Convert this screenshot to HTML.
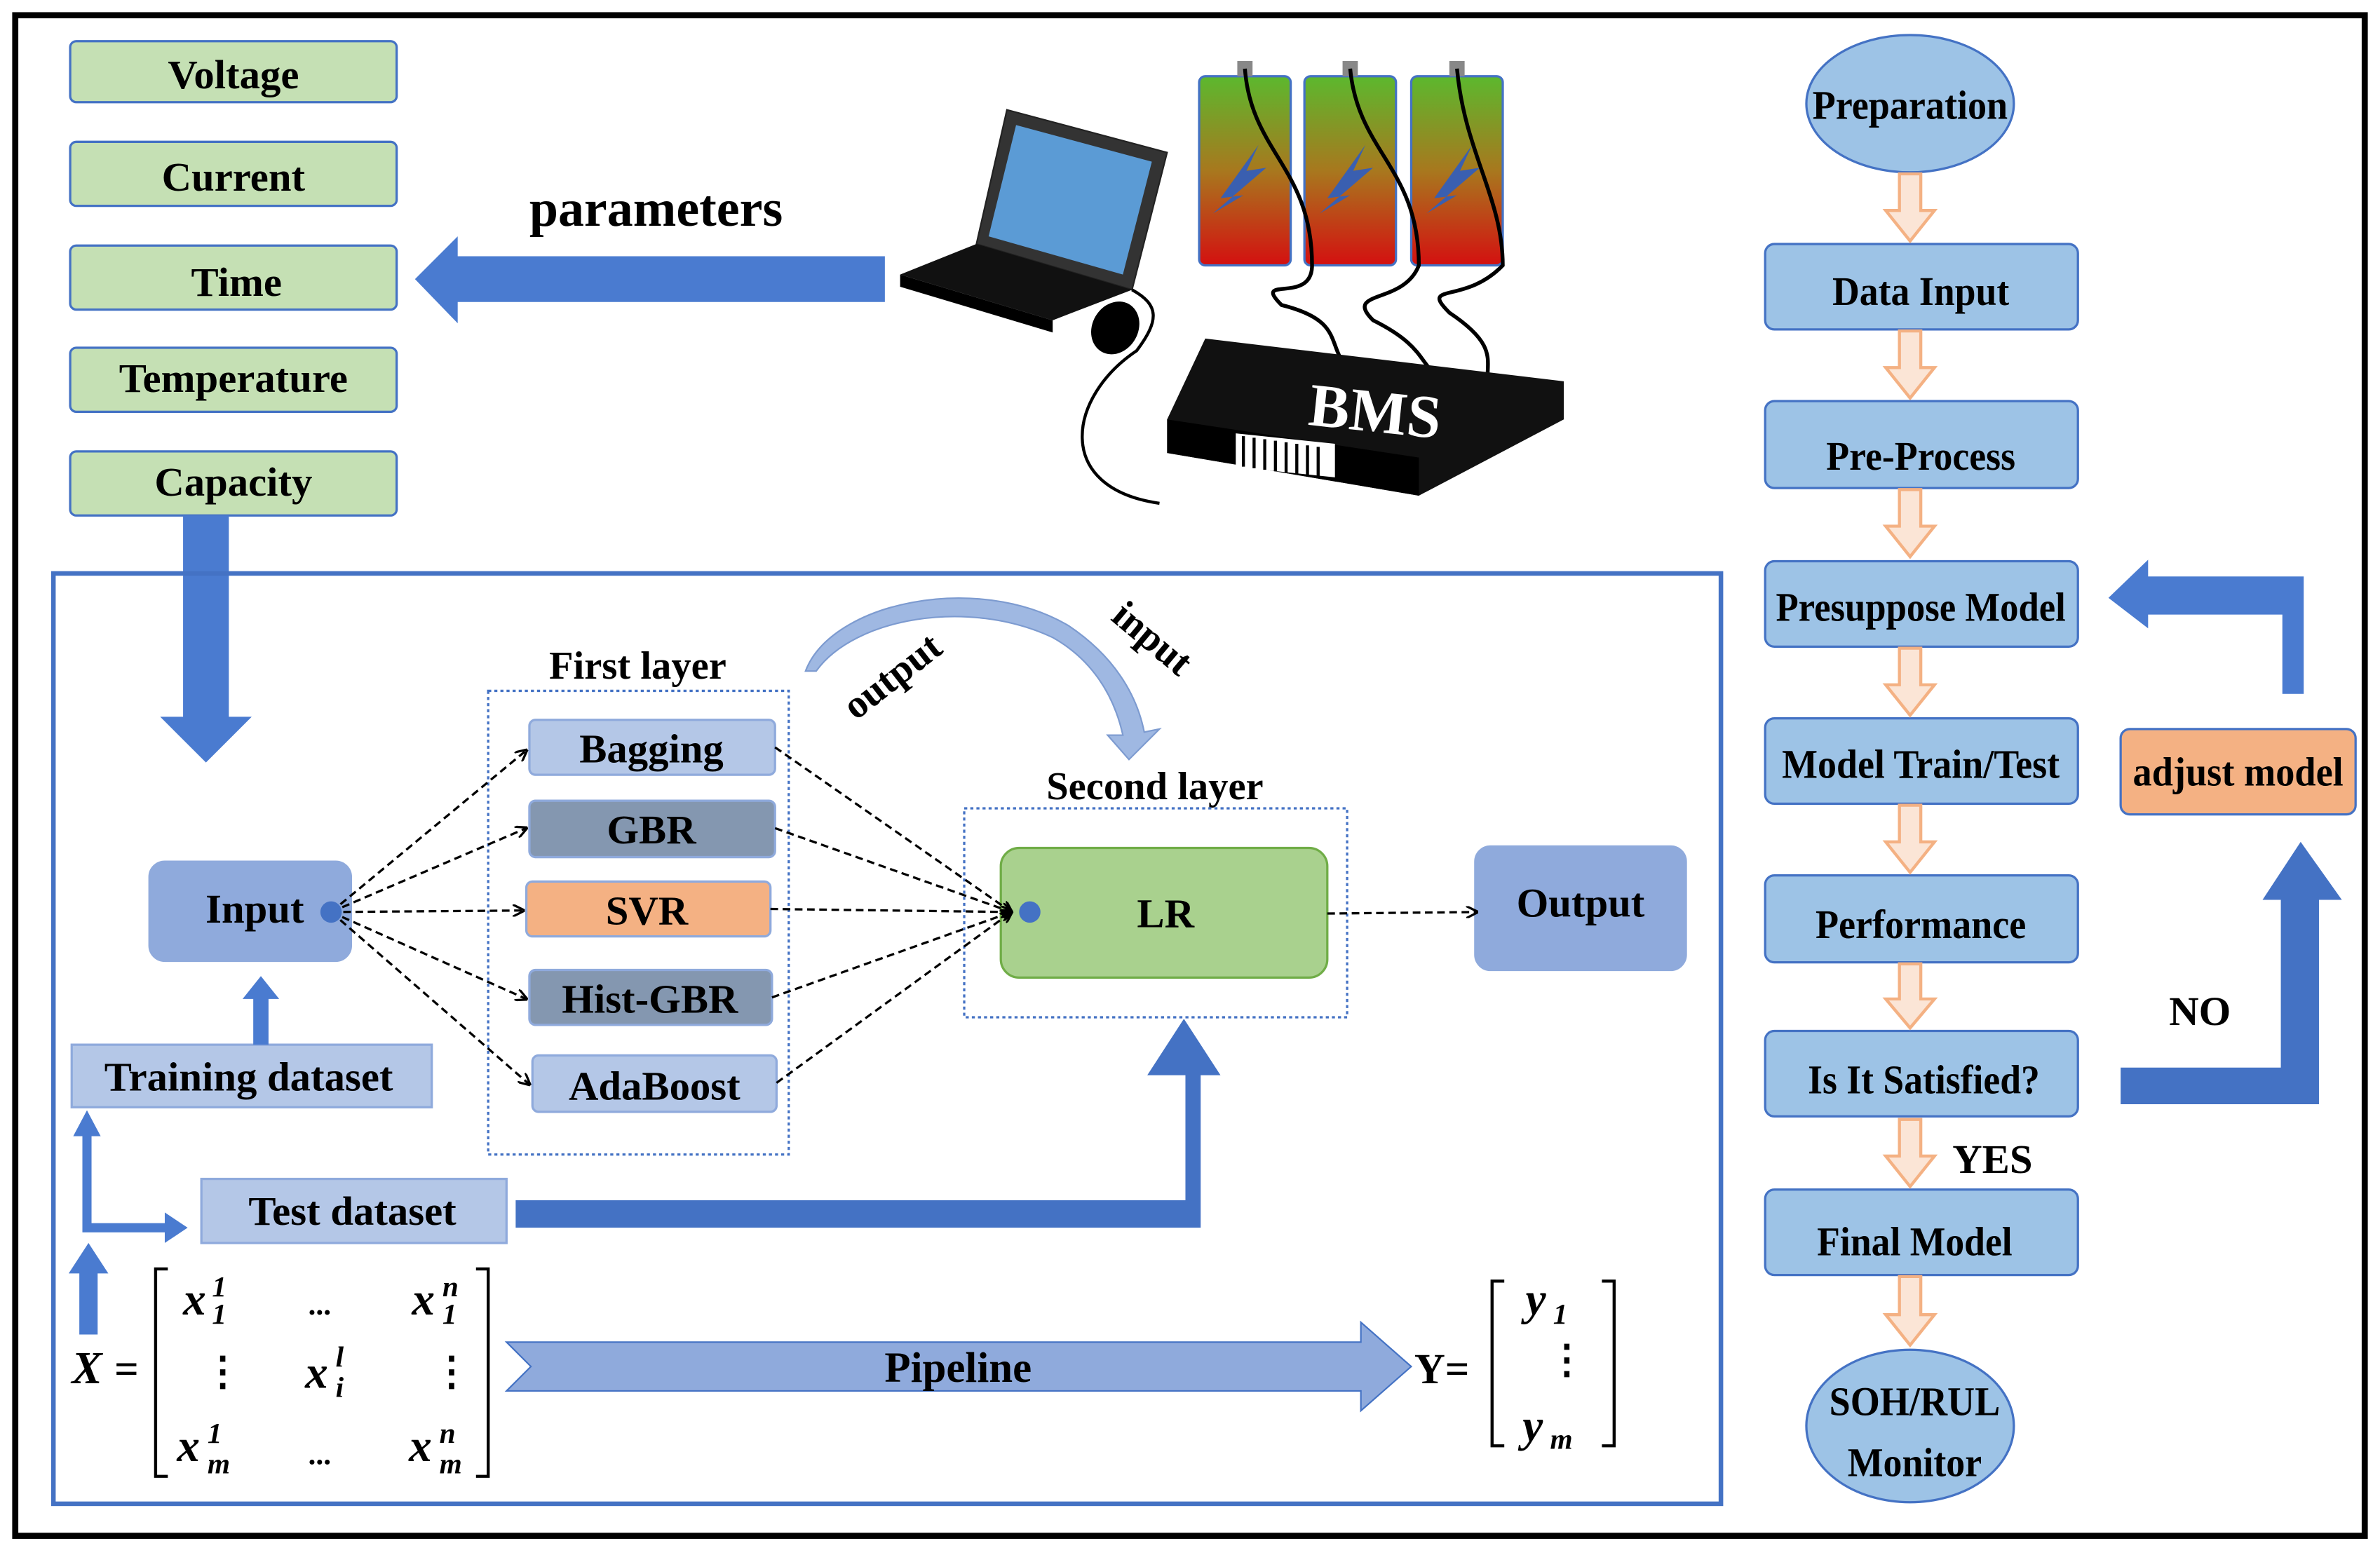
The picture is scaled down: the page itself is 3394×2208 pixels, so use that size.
<!DOCTYPE html>
<html><head><meta charset="utf-8"><style>html,body{margin:0;padding:0;background:#fff}svg{display:block}</style></head>
<body>
<svg width="3394" height="2208" viewBox="0 0 1560 1015" preserveAspectRatio="none" xmlns="http://www.w3.org/2000/svg" font-family="Liberation Serif, serif" font-weight="bold">
<defs>
<linearGradient id="bat" x1="0" y1="0" x2="0" y2="1"><stop offset="0" stop-color="#5cb82e"/><stop offset="0.5" stop-color="#a8781e"/><stop offset="1" stop-color="#d41010"/></linearGradient>
<marker id="ah" markerWidth="8" markerHeight="8" refX="7" refY="4" orient="auto" markerUnits="userSpaceOnUse"><path d="M0,0 L8,4 L0,8" fill="none" stroke="#000" stroke-width="1.5"/></marker>
</defs>
<rect x="10" y="10" width="1540" height="997" fill="#fff" stroke="#000" stroke-width="4"/>
<!-- green boxes -->
<g fill="#c5e0b4" stroke="#4472c4" stroke-width="1.5" font-size="27" text-anchor="middle">
<rect x="46" y="27" width="214" height="40" rx="4"/><rect x="46" y="93" width="214" height="42" rx="4"/><rect x="46" y="161" width="214" height="42" rx="4"/><rect x="46" y="228" width="214" height="42" rx="4"/><rect x="46" y="296" width="214" height="42" rx="4"/>
</g>
<g font-size="27" text-anchor="middle" fill="#000"><text x="153" y="58">Voltage</text><text x="153" y="125">Current</text><text x="155" y="194">Time</text><text x="153" y="257">Temperature</text><text x="153" y="325">Capacity</text></g>
<text x="430" y="148" font-size="34" text-anchor="middle">parameters</text>
<path d="M580,168 L300,168 L300,155 L272,183 L300,212 L300,198 L580,198 Z" fill="#4a7bd0"/>
<path d="M120,338 L150,338 L150,470 L165,470 L135,500 L105,470 L120,470 Z" fill="#4a7bd0"/>
<!-- laptop -->
<path d="M660,72 L765,100 L742,190 L640,160 Z" fill="#333" stroke="#222"/>
<path d="M666,82 L755,106 L736,180 L648,155 Z" fill="#5b9bd5"/>
<path d="M640,160 L742,190 L690,210 L590,180 Z" fill="#111"/>
<path d="M590,180 L690,210 L690,218 L590,188 Z" fill="#000"/>
<ellipse cx="731" cy="215" rx="15" ry="18" fill="#000" transform="rotate(30 731 215)"/>
<path d="M742,190 C760,200 760,210 745,230 C700,260 690,320 760,330" fill="none" stroke="#000" stroke-width="2"/>
<!-- batteries -->
<g stroke="#4472c4" stroke-width="1.5">
<rect x="786" y="50" width="60" height="124" rx="4" fill="url(#bat)"/><rect x="855" y="50" width="60" height="124" rx="4" fill="url(#bat)"/><rect x="925" y="50" width="60" height="124" rx="4" fill="url(#bat)"/>
</g>
<g fill="#888"><rect x="811" y="40" width="10" height="10"/><rect x="880" y="40" width="10" height="10"/><rect x="950" y="40" width="10" height="10"/></g>
<g fill="#3a5fb0"><path d="M825,95 L800,130 L815,128 L795,140 L830,110 L817,112 Z"/><path d="M895,95 L870,130 L885,128 L865,140 L900,110 L887,112 Z"/><path d="M965,95 L940,130 L955,128 L935,140 L970,110 L957,112 Z"/></g>
<g fill="none" stroke="#000" stroke-width="2.5">
<path d="M816,45 C820,100 860,110 860,174 C860,200 820,180 840,200 C880,210 870,225 882,240"/>
<path d="M885,45 C890,100 930,110 930,174 C920,200 880,190 900,210 C930,225 930,235 940,245"/>
<path d="M955,45 C960,100 985,130 985,174 C960,200 930,185 950,205 C980,225 975,235 975,248"/>
</g>
<!-- BMS -->
<path d="M790,222 L1025,250 L1025,275 L930,325 L765,297 L765,275 Z" fill="#111"/>
<path d="M765,275 L930,300 L930,325 L765,297 Z" fill="#000"/>
<rect x="810" y="285" width="65" height="22" fill="#fff" transform="skewY(6) translate(0,-86)"/>
<g stroke="#000" stroke-width="2"><line x1="815" y1="286" x2="815" y2="306"/><line x1="822" y1="287" x2="822" y2="307"/><line x1="829" y1="288" x2="829" y2="308"/><line x1="836" y1="289" x2="836" y2="309"/><line x1="843" y1="290" x2="843" y2="310"/><line x1="850" y1="291" x2="850" y2="311"/><line x1="857" y1="292" x2="857" y2="312"/><line x1="864" y1="293" x2="864" y2="313"/></g>
<text x="900" y="283" font-size="40" fill="#fff" text-anchor="middle" transform="rotate(6 900 283)">BMS</text>
<!-- inner box -->
<rect x="35" y="376" width="1093" height="610" fill="none" stroke="#4472c4" stroke-width="3"/>
<text x="418" y="445" font-size="26" text-anchor="middle">First layer</text>
<rect x="320" y="453" width="197" height="304" fill="none" stroke="#4472c4" stroke-width="1.5" stroke-dasharray="2,2"/>
<text x="757" y="524" font-size="26" text-anchor="middle">Second layer</text>
<rect x="632" y="530" width="251" height="137" fill="none" stroke="#4472c4" stroke-width="1.5" stroke-dasharray="2,2"/>
<g stroke="#8faadc" stroke-width="1.5">
<rect x="347" y="472" width="161" height="36" rx="4" fill="#b4c7e7"/>
<rect x="347" y="525" width="161" height="37" rx="4" fill="#8497b0"/>
<rect x="345" y="578" width="160" height="36" rx="4" fill="#f4b183"/>
<rect x="347" y="636" width="159" height="36" rx="4" fill="#8497b0"/>
<rect x="349" y="692" width="160" height="37" rx="4" fill="#b4c7e7"/>
<rect x="98" y="565" width="132" height="65" rx="10" fill="#8faadc"/>
<rect x="967" y="555" width="138" height="81" rx="10" fill="#8faadc"/>
</g>
<rect x="656" y="556" width="214" height="85" rx="12" fill="#a9d18e" stroke="#70ad47" stroke-width="1.5"/>
<g font-size="27" text-anchor="middle"><text x="427" y="500">Bagging</text><text x="427" y="553">GBR</text><text x="424" y="606">SVR</text><text x="426" y="664">Hist-GBR</text><text x="429" y="721">AdaBoost</text><text x="167" y="605">Input</text><text x="1036" y="601">Output</text><text x="764" y="608">LR</text></g>
<g fill="none" stroke="#000" stroke-width="1.5" stroke-dasharray="5,3" marker-end="url(#ah)">
<line x1="217" y1="598" x2="345" y2="492"/><line x1="217" y1="598" x2="345" y2="543"/><line x1="217" y1="598" x2="343" y2="597"/><line x1="217" y1="598" x2="345" y2="655"/><line x1="217" y1="598" x2="347" y2="711"/>
<line x1="508" y1="490" x2="663" y2="598"/><line x1="508" y1="543" x2="663" y2="598"/><line x1="505" y1="596" x2="663" y2="598"/><line x1="506" y1="654" x2="663" y2="598"/><line x1="509" y1="710" x2="663" y2="598"/>
<line x1="870" y1="599" x2="968" y2="598"/>
</g>
<circle cx="217" cy="598" r="7" fill="#4472c4"/><circle cx="675" cy="598" r="7" fill="#4472c4"/>
<!-- curved arrow -->
<path d="M528,440 C545,395 640,375 700,410 C730,430 745,455 750,480 L760,478 L740,498 L726,482 L736,482 C730,455 715,432 690,418 C635,392 560,405 535,440 Z" fill="#9fb8e2" stroke="#7d9bd0"/>
<text x="590" y="450" font-size="26" transform="rotate(-38 590 450)" text-anchor="middle">output</text>
<text x="750" y="425" font-size="26" transform="rotate(40 750 425)" text-anchor="middle">input</text>
<!-- datasets -->
<rect x="47" y="685" width="236" height="41" fill="#b4c7e7" stroke="#8faadc" stroke-width="1.5"/>
<text x="163" y="715" font-size="27" text-anchor="middle">Training dataset</text>
<rect x="132" y="773" width="200" height="42" fill="#b4c7e7" stroke="#8faadc" stroke-width="1.5"/>
<text x="231" y="803" font-size="27" text-anchor="middle">Test dataset</text>
<path d="M166,685 L176,685 L176,655 L183,655 L171,640 L159,655 L166,655 Z" fill="#4a7bd0"/>
<path d="M338,787 L777,787 L777,705 L752,705 L776,668 L800,705 L787,705 L787,805 L338,805 Z" fill="#4472c4"/>
<path d="M54,745 L54,808 L108,808 L108,815 L123,805 L108,795 L108,802 L60,802 L60,745 L66,745 L57,728 L48,745 Z" fill="#4a7bd0"/>
<path d="M52,875 L52,835 L45,835 L58,815 L71,835 L64,835 L64,875 Z" fill="#4a7bd0"/>
<!-- matrices -->
<g font-style="italic" font-size="30">
<text x="47" y="907">X</text>
<text x="120" y="862">x</text><text x="139" y="850" font-size="19">1</text><text x="139" y="868" font-size="19">1</text>
<text x="270" y="862">x</text><text x="290" y="850" font-size="19">n</text><text x="290" y="868" font-size="19">1</text>
<text x="200" y="910">x</text><text x="220" y="896" font-size="19">l</text><text x="220" y="916" font-size="19">i</text>
<text x="116" y="958">x</text><text x="136" y="946" font-size="19">1</text><text x="136" y="966" font-size="19">m</text>
<text x="268" y="958">x</text><text x="288" y="946" font-size="19">n</text><text x="288" y="966" font-size="19">m</text>
<text x="1000" y="862">y</text><text x="1018" y="868" font-size="19">1</text>
<text x="998" y="945">y</text><text x="1016" y="950" font-size="19">m</text>
</g>
<g font-size="28"><text x="75" y="907">=</text><text x="927" y="907">Y=</text><text x="202" y="862" font-size="20">...</text><text x="202" y="960" font-size="20">...</text></g>
<g font-size="26"><text x="133" y="908">⋮</text><text x="283" y="908">⋮</text><text x="1014" y="900">⋮</text></g>
<g fill="none" stroke="#000" stroke-width="2"><path d="M110,832 L102,832 L102,968 L110,968"/><path d="M312,832 L320,832 L320,968 L312,968"/><path d="M986,840 L978,840 L978,948 L986,948"/><path d="M1050,840 L1058,840 L1058,948 L1050,948"/></g>
<path d="M332,880 L892,880 L892,867 L925,896 L892,925 L892,912 L332,912 L348,896 Z" fill="#8faadc" stroke="#4472c4" stroke-width="1"/>
<text x="628" y="906" font-size="28" text-anchor="middle">Pipeline</text>
<!-- right flow -->
<g fill="#9dc3e6" stroke="#4472c4" stroke-width="1.5">
<ellipse cx="1252" cy="68" rx="68" ry="45"/>
<rect x="1157" y="160" width="205" height="56" rx="6"/><rect x="1157" y="263" width="205" height="57" rx="6"/><rect x="1157" y="368" width="205" height="56" rx="6"/><rect x="1157" y="471" width="205" height="56" rx="6"/><rect x="1157" y="574" width="205" height="57" rx="6"/><rect x="1157" y="676" width="205" height="56" rx="6"/><rect x="1157" y="780" width="205" height="56" rx="6"/>
<ellipse cx="1252" cy="935" rx="68" ry="50"/>
</g>
<rect x="1390" y="478" width="154" height="56" rx="6" fill="#f4b183" stroke="#4472c4" stroke-width="1.5"/>
<g font-size="27" text-anchor="middle" font-family="Liberation Sans Narrow, Liberation Serif, serif">
<text x="1252" y="78" textLength="128" lengthAdjust="spacingAndGlyphs">Preparation</text>
<text x="1259" y="200" textLength="116" lengthAdjust="spacingAndGlyphs">Data Input</text>
<text x="1259" y="308" textLength="124" lengthAdjust="spacingAndGlyphs">Pre-Process</text>
<text x="1259" y="407" textLength="190" lengthAdjust="spacingAndGlyphs">Presuppose Model</text>
<text x="1259" y="510" textLength="182" lengthAdjust="spacingAndGlyphs">Model Train/Test</text>
<text x="1259" y="615" textLength="138" lengthAdjust="spacingAndGlyphs">Performance</text>
<text x="1261" y="717" textLength="152" lengthAdjust="spacingAndGlyphs">Is It Satisfied?</text>
<text x="1255" y="823" textLength="128" lengthAdjust="spacingAndGlyphs">Final Model</text>
<text x="1255" y="928" textLength="112" lengthAdjust="spacingAndGlyphs">SOH/RUL</text>
<text x="1255" y="968" textLength="88" lengthAdjust="spacingAndGlyphs">Monitor</text>
<text x="1467" y="515" textLength="138" lengthAdjust="spacingAndGlyphs">adjust model</text>
<text x="1442" y="672">NO</text>
<text x="1306" y="769">YES</text>
</g>
<g fill="#fbe5d6" stroke="#f4b183" stroke-width="2">
<path d="M1245,114 L1259,114 L1259,138 L1268,138 L1252,158 L1236,138 L1245,138 Z"/>
<path d="M1245,217 L1259,217 L1259,241 L1268,241 L1252,261 L1236,241 L1245,241 Z"/>
<path d="M1245,321 L1259,321 L1259,345 L1268,345 L1252,365 L1236,345 L1245,345 Z"/>
<path d="M1245,425 L1259,425 L1259,449 L1268,449 L1252,469 L1236,449 L1245,449 Z"/>
<path d="M1245,528 L1259,528 L1259,552 L1268,552 L1252,572 L1236,552 L1245,552 Z"/>
<path d="M1245,632 L1259,632 L1259,655 L1268,655 L1252,674 L1236,655 L1245,655 Z"/>
<path d="M1245,734 L1259,734 L1259,758 L1268,758 L1252,778 L1236,758 L1245,758 Z"/>
<path d="M1245,837 L1259,837 L1259,862 L1268,862 L1252,882 L1236,862 L1245,862 Z"/>
</g>
<path d="M1390,700 L1495,700 L1495,590 L1483,590 L1508,552 L1535,590 L1520,590 L1520,724 L1390,724 Z" fill="#4472c4"/>
<path d="M1496,455 L1510,455 L1510,378 L1408,378 L1408,367 L1382,392 L1408,412 L1408,403 L1496,403 Z" fill="#4a7bd0"/>
</svg>
</body></html>
